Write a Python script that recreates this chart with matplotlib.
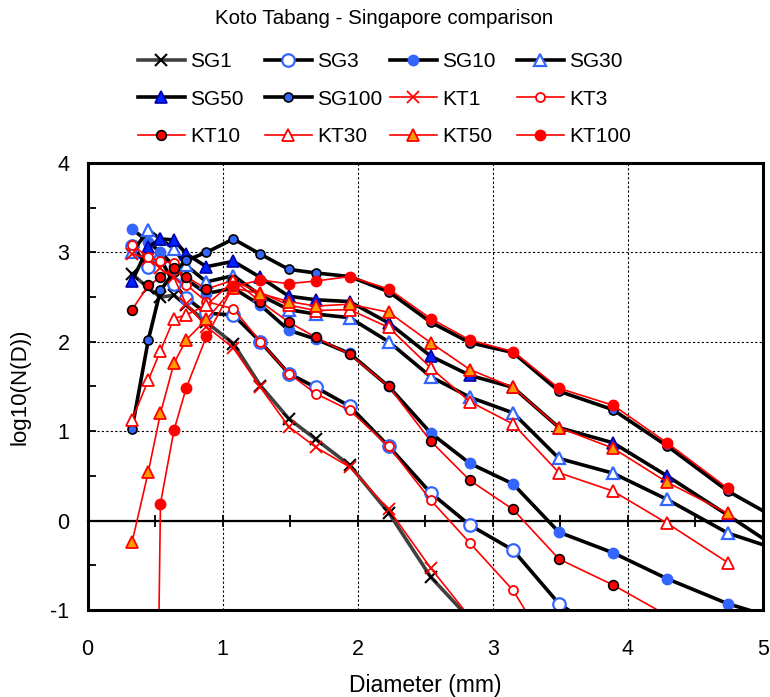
import numpy as np
import matplotlib
matplotlib.use('Agg')
import matplotlib.pyplot as plt

plt.rcParams['font.family'] = ['Liberation Sans', 'DejaVu Sans']
plt.rcParams['axes.unicode_minus'] = False

# diametros (mm) de las clases
diametro = [0.33, 0.45, 0.54, 0.64, 0.73, 0.88, 1.08, 1.28, 1.49, 1.69,
            1.94, 2.23, 2.54, 2.83, 3.15, 3.49, 3.89, 4.29, 4.74, 5.2]

# Singapore
sg1 = [2.76, 2.60, 2.50, 2.52, 2.41, 2.22, 1.98, 1.51, 1.14, 0.91, 0.62, 0.087, -0.63, -1.1]
sg3 = [3.07, 2.84, 2.93, 2.65, 2.49, 2.32, 2.30, 2.00, 1.645, 1.49, 1.28, 0.83, 0.31,
       -0.05, -0.33, -0.93, -1.33]
sg10 = [3.26, 3.12, 3.00, 2.85, 2.70, 2.54, 2.60, 2.41, 2.13, 2.03, 1.87, 1.50, 0.98,
        0.64, 0.41, -0.13, -0.36, -0.65, -0.93, -1.14]
sg30 = [3.00, 3.25, 3.15, 3.04, 2.855, 2.67, 2.74, 2.52, 2.36, 2.31, 2.27, 2.00, 1.61,
        1.38, 1.205, 0.695, 0.53, 0.237, -0.14, -0.37]
sg50 = [2.68, 3.06, 3.15, 3.14, 2.985, 2.84, 2.90, 2.72, 2.51, 2.47, 2.45, 2.21, 1.84,
        1.625, 1.49, 1.04, 0.87, 0.50, 0.06, -0.40]
sg100 = [1.03, 2.02, 2.575, 2.78, 2.91, 3.00, 3.15, 2.98, 2.81, 2.77, 2.73, 2.56, 2.22,
         1.99, 1.88, 1.447, 1.24, 0.835, 0.33, -0.06]

# Koto Tabang
kt1 = [2.985, 2.93, 2.82, 2.72, 2.42, 2.17, 1.93, 1.49, 1.05, 0.82, 0.60, 0.125, -0.53, -1.08]
kt3 = [3.08, 2.95, 2.90, 2.88, 2.64, 2.45, 2.37, 2.00, 1.645, 1.42, 1.235, 0.83, 0.23,
       -0.25, -0.78, -1.62]
kt10 = [2.36, 2.63, 2.72, 2.83, 2.73, 2.59, 2.69, 2.45, 2.22, 2.05, 1.86, 1.50, 0.89,
        0.45, 0.125, -0.43, -0.72, -1.06]
kt30 = [1.13, 1.57, 1.90, 2.26, 2.30, 2.41, 2.68, 2.55, 2.41, 2.35, 2.36, 2.16, 1.71,
        1.33, 1.08, 0.535, 0.33, -0.03, -0.47]
kt50 = [-0.24, 0.545, 1.20, 1.76, 2.02, 2.25, 2.60, 2.54, 2.45, 2.40, 2.42, 2.33, 1.99,
        1.69, 1.49, 1.04, 0.81, 0.43, 0.08]
kt100 = [np.nan, -10.0, 0.19, 1.01, 1.48, 2.06, 2.62, 2.69, 2.65, 2.68, 2.73, 2.59, 2.26,
         2.02, 1.89, 1.48, 1.29, 0.87, 0.36]

azul = '#3366ff'
rojo = '#ff0000'

series = [
    ('SG1', sg1, dict(color='#404040', lw=2.6, marker='x', ms=8, mec='k', mew=1.5)),
    ('SG3', sg3, dict(color='k', lw=2.6, marker='o', ms=9, mfc='white', mec=azul, mew=1.6)),
    ('SG10', sg10, dict(color='k', lw=2.6, marker='o', ms=7.5, mfc=azul, mec=azul, mew=1)),
    ('SG30', sg30, dict(color='k', lw=2.6, marker='^', ms=9, mfc='white', mec=azul, mew=1.6)),
    ('SG50', sg50, dict(color='k', lw=2.6, marker='^', ms=9, mfc='#0022ff', mec='#0000aa', mew=1.2)),
    ('SG100', sg100, dict(color='k', lw=2.6, marker='o', ms=6.5, mfc=azul, mec='k', mew=1.2)),
    ('KT1', kt1, dict(color=rojo, lw=1.2, marker='x', ms=8, mec=rojo, mew=1.3)),
    ('KT3', kt3, dict(color=rojo, lw=1.2, marker='o', ms=6.5, mfc='white', mec=rojo, mew=1.3)),
    ('KT10', kt10, dict(color=rojo, lw=1.2, marker='o', ms=7, mfc=rojo, mec='k', mew=1.2)),
    ('KT30', kt30, dict(color=rojo, lw=1.2, marker='^', ms=8.5, mfc='white', mec=rojo, mew=1.3)),
    ('KT50', kt50, dict(color=rojo, lw=1.2, marker='^', ms=8.5, mfc='#ff9900', mec=rojo, mew=1.3)),
    ('KT100', kt100, dict(color=rojo, lw=1.2, marker='o', ms=7.5, mfc=rojo, mec=rojo, mew=1)),
]

fig = plt.figure(figsize=(7.7, 6.97), dpi=100)
ax = fig.add_axes([87.5 / 770, 1 - 610 / 697, (763 - 87.5) / 770, (610 - 163) / 697])

handles = []
for nombre, valores, estilo in series:
    h, = ax.plot(diametro[:len(valores)], valores, label=nombre, **estilo)
    handles.append(h)

ax.set_xlim(0, 5)
ax.set_ylim(-1, 4)
ax.set_xticks(range(0, 6))
ax.set_yticks(range(-1, 5))
ax.set_yticks(np.arange(-1, 4.01, 0.5), minor=True)
ax.tick_params(axis='x', length=0, pad=21, labelsize=15.5)
ax.tick_params(axis='y', which='both', direction='in', length=6, width=1.3, labelsize=15.5, pad=13)
for s in ax.spines.values():
    s.set_linewidth(2.2)
ax.grid(True, color='k', ls=(0, (2, 2)), lw=0.8)

# eje x cruzando en y=0
eje0 = ax.secondary_xaxis(0.2)
eje0.set_xticks(np.arange(0, 5.01, 0.5))
eje0.tick_params(direction='inout', length=9, width=1.3, labelbottom=False)
eje0.spines['bottom'].set_linewidth(1.6)

ax.set_xlabel('Diameter (mm)', fontsize=16.5, labelpad=10)
ax.set_ylabel('log10(N(D))', fontsize=16, labelpad=14)

fig.text(0.499, 1 - 19 / 697, 'Koto Tabang - Singapore comparison', ha='center', va='center', fontsize=14.8)

# leyenda en 4 columnas fijas como en Excel
x_columnas = [138, 265, 390, 517]
for c in range(4):
    hs = [handles[r * 4 + c] for r in range(3)]
    fig.legend(hs, [h.get_label() for h in hs], loc='center left',
               bbox_to_anchor=(x_columnas[c] / 770, 1 - 99 / 697), frameon=False, fontsize=15,
               handlelength=2.25, handletextpad=0.25, labelspacing=0.88,
               borderpad=0, borderaxespad=0)

fig.savefig('out.png', dpi=100)
